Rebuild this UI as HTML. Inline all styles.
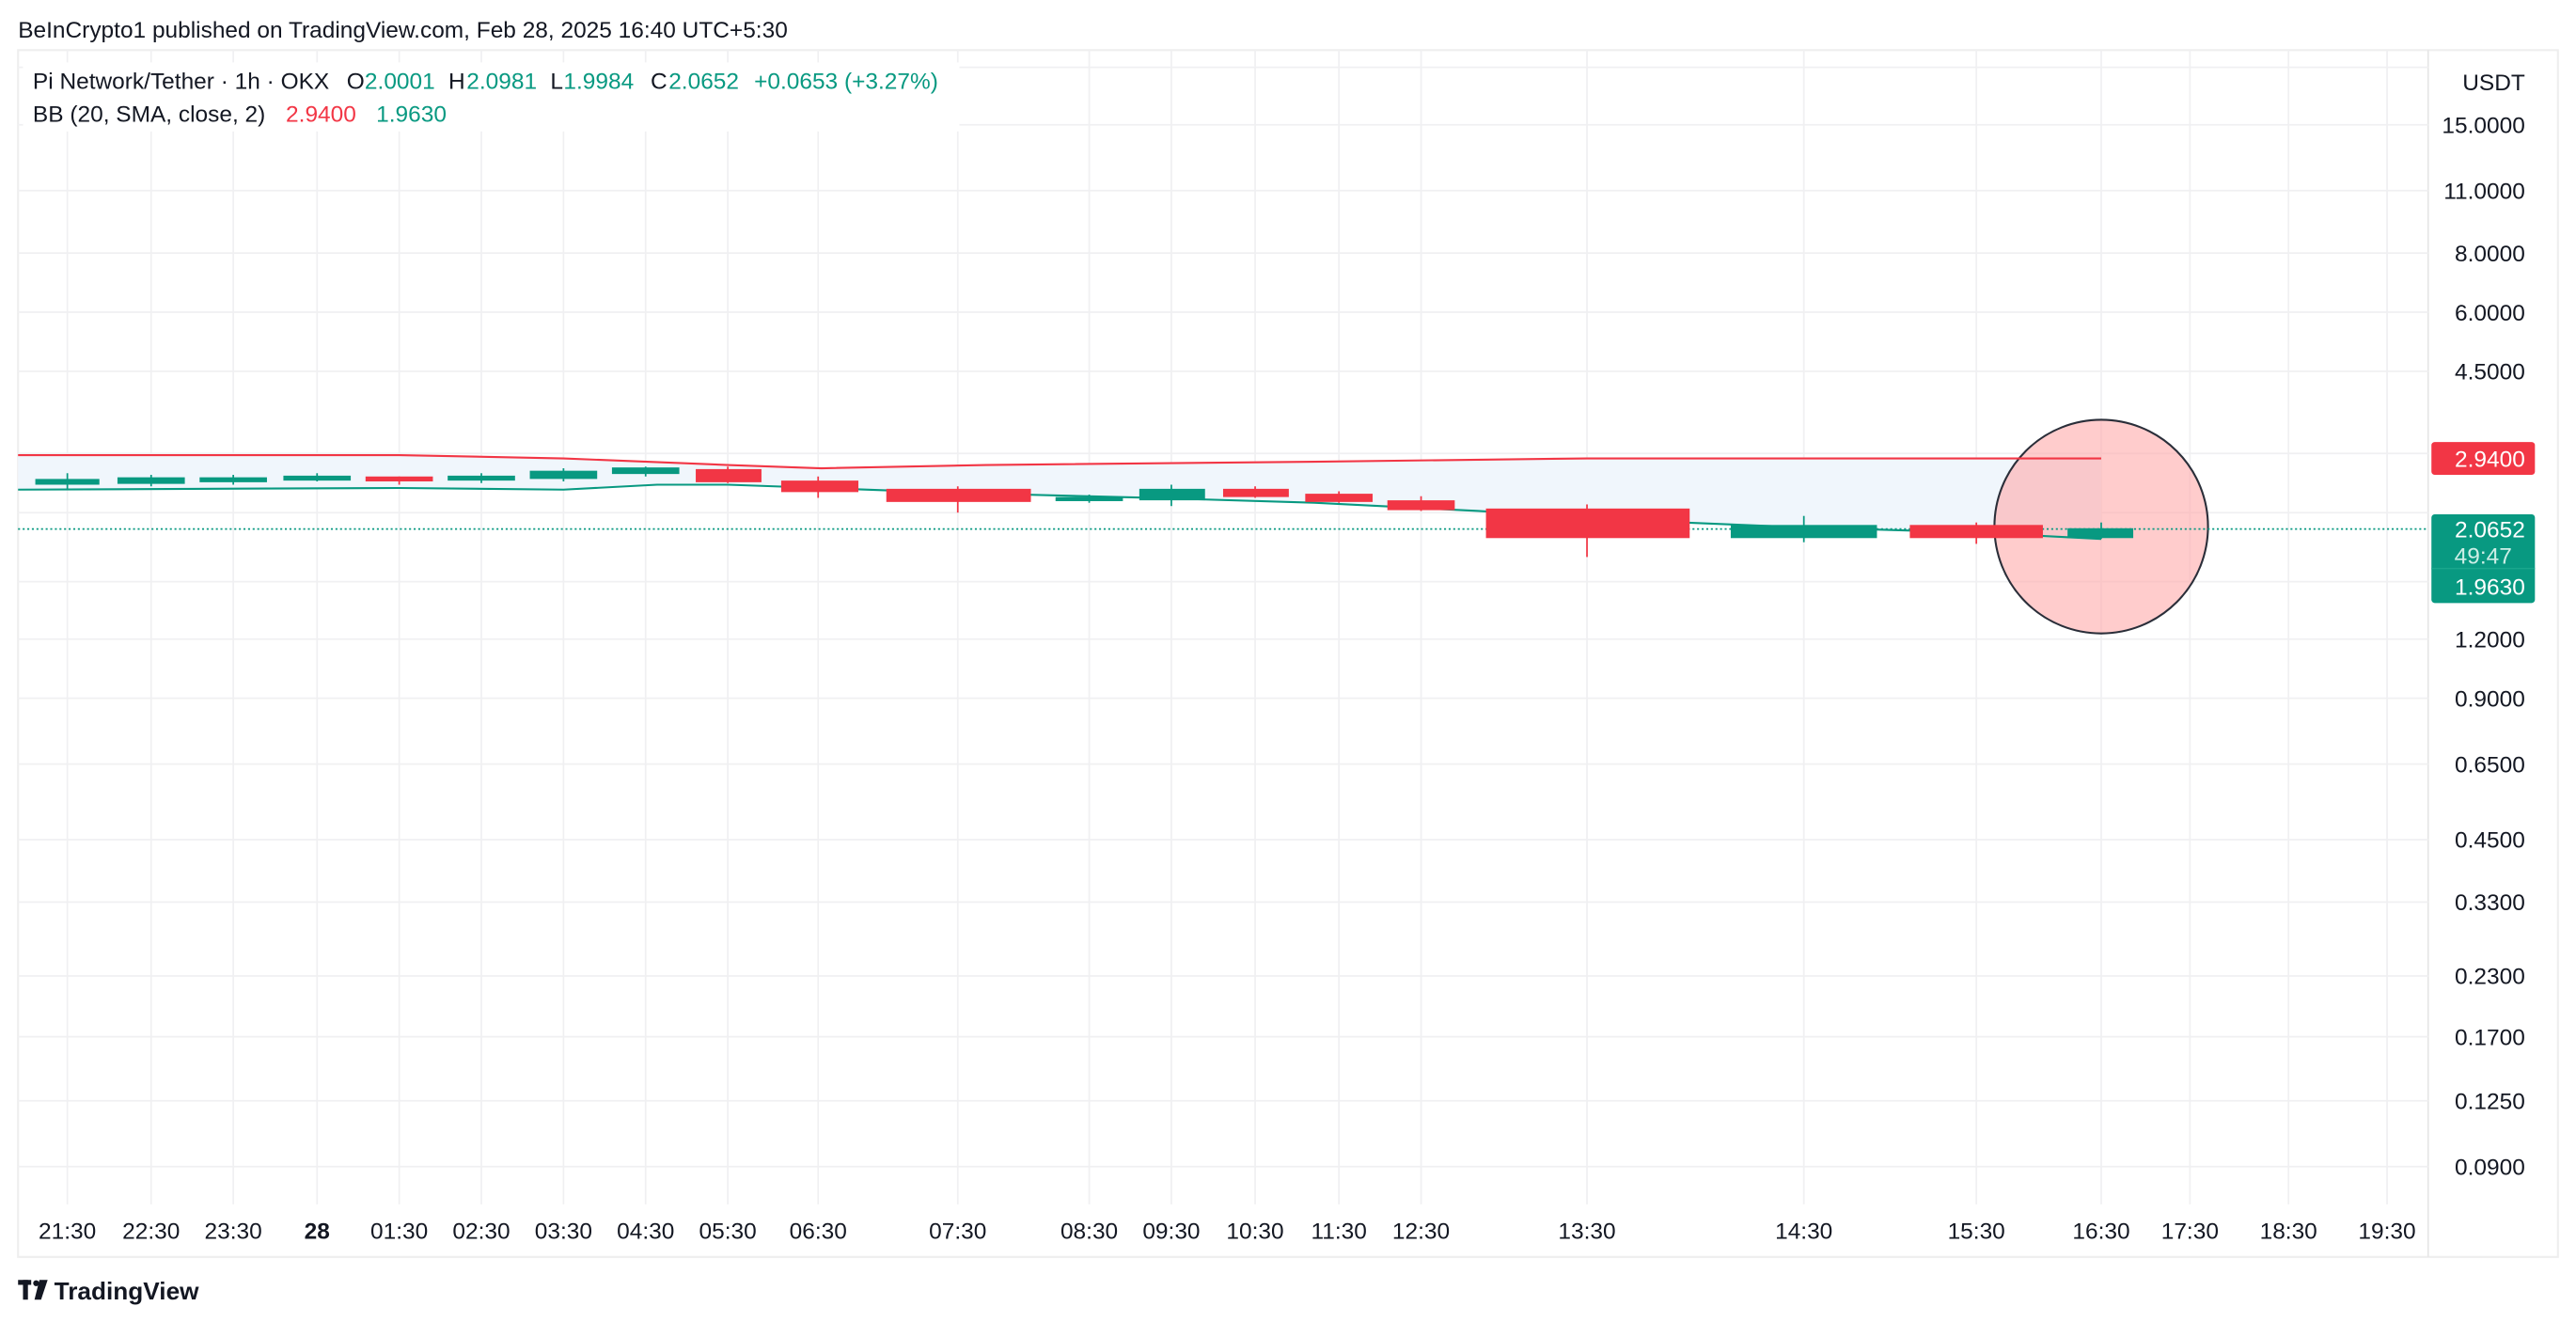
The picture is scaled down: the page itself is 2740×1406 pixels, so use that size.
<!DOCTYPE html>
<html><head><meta charset="utf-8"><style>
html,body{margin:0;padding:0;background:#fff;width:2740px;height:1406px;overflow:hidden}
svg{display:block}
text{font-family:"Liberation Sans",sans-serif}
</style></head><body>
<svg width="2740" height="1406" viewBox="0 0 1568 804.6" xmlns="http://www.w3.org/2000/svg">
<rect width="1568" height="805" fill="#fff"/>
<text x="11" y="23" font-size="14" fill="#131722">BeInCrypto1 published on TradingView.com, Feb 28, 2025 16:40 UTC+5:30</text>
<rect x="11" y="30.5" width="1546" height="734.5" fill="none" stroke="#eeeeee" stroke-width="1.2"/>
<line x1="1478" y1="30.5" x2="1478" y2="765" stroke="#e6e6e6"/>
<g stroke="#f0f0f2" stroke-width="1">
<line x1="11" x2="1478" y1="41" y2="41"/>
<line x1="11" x2="1478" y1="76" y2="76"/>
<line x1="11" x2="1478" y1="116" y2="116"/>
<line x1="11" x2="1478" y1="154" y2="154"/>
<line x1="11" x2="1478" y1="190" y2="190"/>
<line x1="11" x2="1478" y1="226" y2="226"/>
<line x1="11" x2="1478" y1="276" y2="276"/>
<line x1="11" x2="1478" y1="312" y2="312"/>
<line x1="11" x2="1478" y1="354" y2="354"/>
<line x1="11" x2="1478" y1="389" y2="389"/>
<line x1="11" x2="1478" y1="425" y2="425"/>
<line x1="11" x2="1478" y1="465" y2="465"/>
<line x1="11" x2="1478" y1="511" y2="511"/>
<line x1="11" x2="1478" y1="549" y2="549"/>
<line x1="11" x2="1478" y1="594" y2="594"/>
<line x1="11" x2="1478" y1="631" y2="631"/>
<line x1="11" x2="1478" y1="670" y2="670"/>
<line x1="11" x2="1478" y1="710" y2="710"/>
</g>
<g stroke="#f0f0f2" stroke-width="1">
<line y1="30.5" y2="733" x1="41" x2="41"/><line y1="30.5" y2="733" x1="92" x2="92"/>
<line y1="30.5" y2="733" x1="142" x2="142"/><line y1="30.5" y2="733" x1="193" x2="193"/>
<line y1="30.5" y2="733" x1="243" x2="243"/><line y1="30.5" y2="733" x1="293" x2="293"/>
<line y1="30.5" y2="733" x1="343" x2="343"/><line y1="30.5" y2="733" x1="393" x2="393"/>
<line y1="30.5" y2="733" x1="443" x2="443"/><line y1="30.5" y2="733" x1="498" x2="498"/>
<line y1="30.5" y2="733" x1="583" x2="583"/><line y1="30.5" y2="733" x1="663" x2="663"/>
<line y1="30.5" y2="733" x1="713" x2="713"/><line y1="30.5" y2="733" x1="764" x2="764"/>
<line y1="30.5" y2="733" x1="815" x2="815"/><line y1="30.5" y2="733" x1="865" x2="865"/>
<line y1="30.5" y2="733" x1="966" x2="966"/><line y1="30.5" y2="733" x1="1098" x2="1098"/>
<line y1="30.5" y2="733" x1="1203" x2="1203"/><line y1="30.5" y2="733" x1="1279" x2="1279"/>
<line y1="30.5" y2="733" x1="1333" x2="1333"/><line y1="30.5" y2="733" x1="1393" x2="1393"/>
<line y1="30.5" y2="733" x1="1453" x2="1453"/>
</g>
<rect x="14" y="38" width="570" height="42" fill="#fff"/>
<g font-size="14" fill="#131722">
<text x="20" y="54">Pi Network/Tether · 1h · OKX</text>
<text x="211" y="54">O</text><text x="222" y="54" fill="#089981">2.0001</text>
<text x="273" y="54">H</text><text x="284" y="54" fill="#089981">2.0981</text>
<text x="335" y="54">L</text><text x="343" y="54" fill="#089981">1.9984</text>
<text x="396" y="54">C</text><text x="407" y="54" fill="#089981">2.0652</text>
<text x="459" y="54" fill="#089981">+0.0653 (+3.27%)</text>
<text x="20" y="74">BB (20, SMA, close, 2)</text>
<text x="174" y="74" fill="#f23645">2.9400</text>
<text x="229" y="74" fill="#089981">1.9630</text>
</g>
<path d="M11,277 L243,277 L343,279 L443,283 L500,285 L600,283 L800,281 L966,279 L1279,279 L1279,328 L1200,324 L1098,321 L1000,317 L900,311 L800,306 L700,303 L583,300 L500,297 L443,295 L400,295 L343,298 L243,297 L11,298 Z" fill="#f0f6fc"/>
<ellipse cx="1279" cy="320.5" rx="65" ry="65" fill="rgba(255,170,170,0.6)" stroke="#2a2e39" stroke-width="1.2"/>
<polyline points="11,277 243,277 343,279 443,283 500,285 600,283 800,281 966,279 1279,279" fill="none" stroke="#f23645" stroke-width="1.2"/>
<polyline points="11,298 243,297 343,298 400,295 443,295 500,297 583,300 700,303 800,306 900,311 1000,317 1098,321 1200,324 1279,328" fill="none" stroke="#089981" stroke-width="1.2"/>
<line x1="11" x2="1478" y1="322" y2="322" stroke="#089981" stroke-width="1" stroke-dasharray="1.2,1.6"/>
<g stroke-width="1">
<g stroke="#089981" fill="#089981">
<line x1="41" x2="41" y1="288" y2="298"/><rect x="22" y="292" width="38" height="2.5"/>
<line x1="92" x2="92" y1="289" y2="296"/><rect x="72" y="291" width="40" height="3"/>
<line x1="142" x2="142" y1="289" y2="295"/><rect x="122" y="291" width="40" height="2"/>
<line x1="193" x2="193" y1="288" y2="293"/><rect x="173" y="290" width="40" height="2"/>
<line x1="293" x2="293" y1="288" y2="294"/><rect x="273" y="290" width="40" height="2"/>
<line x1="343" x2="343" y1="285" y2="293"/><rect x="323" y="287" width="40" height="4"/>
<line x1="393" x2="393" y1="284" y2="290"/><rect x="373" y="285" width="40" height="3"/>
<line x1="663" x2="663" y1="301" y2="306"/><rect x="643" y="303" width="40" height="1.5"/>
<line x1="713" x2="713" y1="295" y2="308"/><rect x="694" y="298" width="39" height="6"/>
<line x1="1098" x2="1098" y1="314" y2="330"/><rect x="1054" y="320" width="88" height="7"/>
<line x1="1279" x2="1279" y1="318" y2="328"/><rect x="1259" y="322" width="39" height="5"/>
</g>
<g stroke="#f23645" fill="#f23645">
<line x1="243" x2="243" y1="290" y2="295"/><rect x="223" y="290.5" width="40" height="2"/>
<line x1="443" x2="443" y1="284" y2="294"/><rect x="424" y="286" width="39" height="7"/>
<line x1="498" x2="498" y1="290" y2="303"/><rect x="476" y="293" width="46" height="6"/>
<line x1="583" x2="583" y1="296" y2="312"/><rect x="540" y="298" width="87" height="7"/>
<line x1="764" x2="764" y1="296" y2="303"/><rect x="745" y="298" width="39" height="4"/>
<line x1="815" x2="815" y1="299" y2="306"/><rect x="795" y="301" width="40" height="4"/>
<line x1="865" x2="865" y1="302" y2="311"/><rect x="845" y="305" width="40" height="5"/>
<line x1="966" x2="966" y1="307" y2="339"/><rect x="905" y="310" width="123" height="17"/>
<line x1="1203" x2="1203" y1="318" y2="331"/><rect x="1163" y="320" width="80" height="7"/>
</g>
</g>
<g font-size="14" fill="#131722" text-anchor="end">
<text x="1537" y="55">USDT</text>
<text x="1537" y="81">15.0000</text>
<text x="1537" y="121">11.0000</text>
<text x="1537" y="159">8.0000</text>
<text x="1537" y="195">6.0000</text>
<text x="1537" y="231">4.5000</text>
<text x="1537" y="394">1.2000</text>
<text x="1537" y="430">0.9000</text>
<text x="1537" y="470">0.6500</text>
<text x="1537" y="516">0.4500</text>
<text x="1537" y="554">0.3300</text>
<text x="1537" y="599">0.2300</text>
<text x="1537" y="636">0.1700</text>
<text x="1537" y="675">0.1250</text>
<text x="1537" y="715">0.0900</text>
</g>
<rect x="1480" y="269" width="63" height="20" rx="2" fill="#f23645"/>
<text x="1537" y="284" font-size="14" fill="#fff" text-anchor="end">2.9400</text>
<rect x="1480" y="313" width="63" height="54" rx="2" fill="#089981"/>
<line x1="1480" x2="1543" y1="346" y2="346" stroke="#1aa78c" stroke-width="0.8"/>
<text x="1537" y="327" font-size="14" fill="#fff" text-anchor="end">2.0652</text>
<text x="1529" y="343" font-size="14" fill="#cdeee6" text-anchor="end">49:47</text>
<text x="1537" y="362" font-size="14" fill="#fff" text-anchor="end">1.9630</text>
<g font-size="14" fill="#131722" text-anchor="middle">
<text x="41" y="754">21:30</text><text x="92" y="754">22:30</text><text x="142" y="754">23:30</text>
<text x="193" y="754" font-weight="bold">28</text><text x="243" y="754">01:30</text><text x="293" y="754">02:30</text>
<text x="343" y="754">03:30</text><text x="393" y="754">04:30</text><text x="443" y="754">05:30</text>
<text x="498" y="754">06:30</text><text x="583" y="754">07:30</text><text x="663" y="754">08:30</text>
<text x="713" y="754">09:30</text><text x="764" y="754">10:30</text><text x="815" y="754">11:30</text>
<text x="865" y="754">12:30</text><text x="966" y="754">13:30</text><text x="1098" y="754">14:30</text>
<text x="1203" y="754">15:30</text><text x="1279" y="754">16:30</text><text x="1333" y="754">17:30</text>
<text x="1393" y="754">18:30</text><text x="1453" y="754">19:30</text>
</g>
<g fill="#131722">
<rect x="11" y="779" width="8" height="3"/><rect x="14" y="779" width="3" height="12"/>
<circle cx="22" cy="781" r="1.8"/><path d="M24,779 L29,779 L25,791 L21,791 Z"/>
</g>
<text x="33" y="791" font-size="15" font-weight="bold" fill="#131722">TradingView</text>
</svg>
</body></html>
